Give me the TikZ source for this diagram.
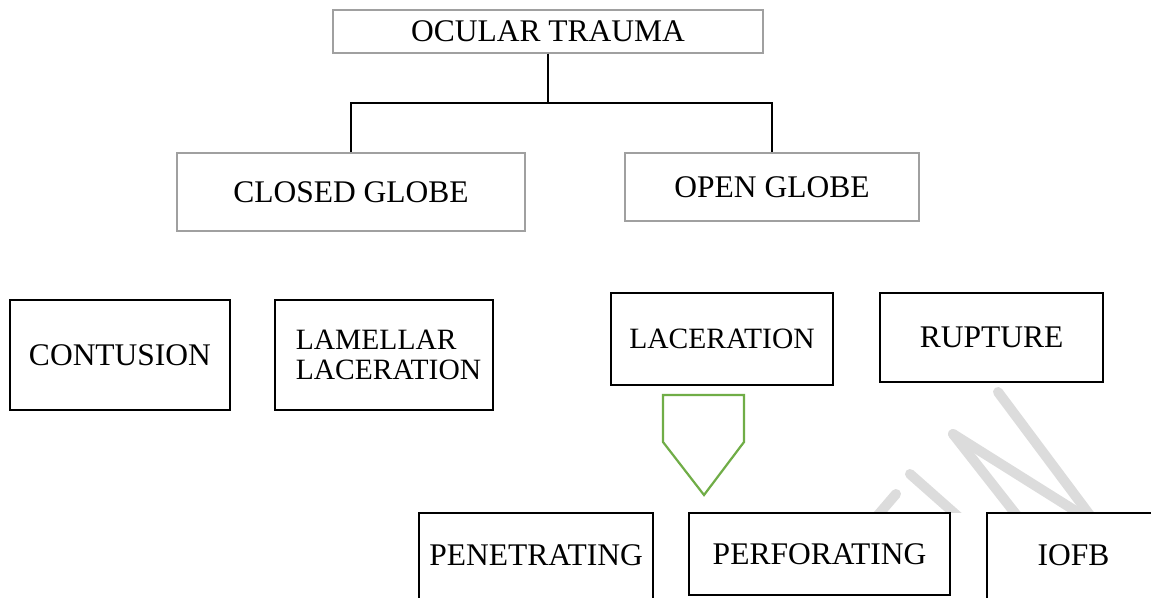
\documentclass[tikz,border=0pt]{standalone}
\usepackage{fontspec}
\setmainfont{Liberation Serif}
\definecolor{boxgray}{RGB}{160,160,160}
\definecolor{arrowgreen}{RGB}{112,173,71}
\definecolor{wmgray}{RGB}{220,220,220}
\tikzset{
  thinbox/.style={draw=boxgray, line width=1.3pt, fill=white, inner sep=0pt, font=\fontsize{31.5}{33}\selectfont},
  thickbox/.style={draw=black, line width=2.6pt, fill=white, inner sep=0pt, font=\fontsize{31.5}{33}\selectfont},
  smalltext/.style={font=\fontsize{29.5}{30}\selectfont},
  conn/.style={draw=black, line width=2.6pt},
  wm/.style={draw=wmgray, line width=10pt, line cap=round},
  greenarrow/.style={draw=arrowgreen, line width=2.2pt, line join=miter}
}
\begin{document}
\begin{tikzpicture}[x=1pt, y=-1pt]
\useasboundingbox (0,0) rectangle (1151,597);
\fill[white] (0,0) rectangle (1151,597);
\clip (0,0) rectangle (1151,597);

% watermark strokes
\begin{scope}
\clip (0,0) rectangle (1151,512);
\draw[wm] (998,392) -- (1095,522);
\draw[wm] (953,434) -- (1090,520);
\draw[wm] (953,434) -- (1022,522);
\draw[wm] (910,474) -- (962,520);
\draw[wm] (896,494) -- (872,522);
\end{scope}

% top levels
\node[thinbox, minimum width=430pt, minimum height=43pt] (ot) at (548,31.5) {OCULAR TRAUMA};
\node[thinbox, minimum width=348pt, minimum height=78pt] (cg) at (351,192) {CLOSED GLOBE};
\node[thinbox, minimum width=294pt, minimum height=68pt] (og) at (772,187) {OPEN GLOBE};

\draw[conn] (ot.south) -- ++(0,49.5) -| (cg.north);
\draw[conn] (ot.south) -- ++(0,49.5) -| (og.north);

% third row
\node[thickbox, minimum width=220pt, minimum height=110pt] (con) at (120,355) {CONTUSION};
\node[thickbox, smalltext, align=left, minimum width=218pt, minimum height=110pt] (lam) at (384,355) {\hspace*{9pt}LAMELLAR\\\hspace*{9pt}LACERATION};
\node[thickbox, smalltext, minimum width=222pt, minimum height=92pt] (lac) at (722,339) {LACERATION};
\node[thickbox, minimum width=223pt, minimum height=89pt] (rup) at (991.5,337.5) {RUPTURE};

% green block arrow
\draw[greenarrow] (663,395) -- (744,395) -- (744,442) -- (704,495) -- (663,442) -- cycle;

% bottom row
\node[thickbox, minimum width=234pt, minimum height=88pt] (pen) at (536,557) {\raisebox{4pt}{PENETRATING}};
\node[thickbox, minimum width=261pt, minimum height=82pt] (perf) at (819.5,554) {PERFORATING};
\node[thickbox, minimum width=173pt, minimum height=88pt] (iofb) at (1073.5,557) {\raisebox{4pt}{IOFB}};
\end{tikzpicture}
\end{document}
